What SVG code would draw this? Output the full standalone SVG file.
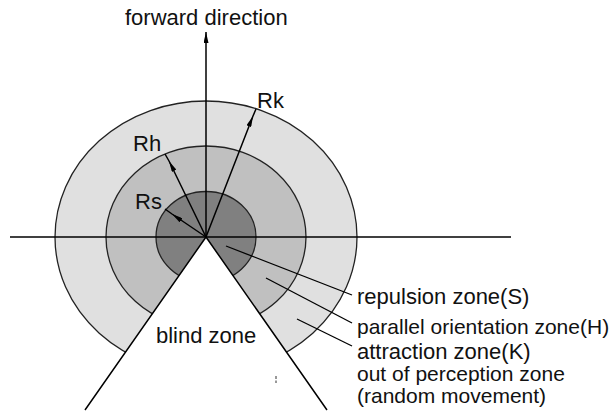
<svg xmlns="http://www.w3.org/2000/svg" width="616" height="415" viewBox="0 0 616 415">
<style>
.zone{stroke:#222;stroke-width:1.3}
.ln{stroke:#000;stroke-width:1.5;fill:none}
.lead{stroke:#000;stroke-width:1.3;fill:none}
text{font-family:"Liberation Sans",Arial,sans-serif;font-size:22px;fill:#111}
.tight{font-size:21px}
</style>
<defs>
<marker id="ah" markerUnits="userSpaceOnUse" markerWidth="11" markerHeight="5" refX="11" refY="2.5" orient="auto">
<path d="M0,0 L11,2.5 L0,5 z" fill="#000"/>
</marker>
</defs>
<rect width="616" height="415" fill="#fff"/>
<g id="zone-K"><ellipse class="zone" cx="206" cy="237" rx="151" ry="136" fill="#e0e0e0"/></g>
<g id="zone-H"><ellipse class="zone" cx="206" cy="237" rx="100" ry="91" fill="#c0c0c0"/></g>
<g id="zone-S"><ellipse class="zone" cx="206" cy="237" rx="50" ry="45.5" fill="#808080"/></g>
<g id="blind-zone"><polygon points="206,237 85,410 327,410" fill="#fff"/></g>
<g id="connectors">
<line class="ln" x1="10" y1="237" x2="511" y2="237"/>
<path class="ln" d="M206,237 L206,32" marker-end="url(#ah)"/>
<path class="ln" d="M206,237 L85,410 M206,237 L327,410"/>
<path class="ln" d="M206,237 L253,116 L256,109" marker-mid="url(#ah)"/>
<path class="ln" d="M206,237 L169,161 L165,154" marker-mid="url(#ah)"/>
<path class="ln" d="M206,237 L172,214 L165,209" marker-mid="url(#ah)"/>
<line class="lead" x1="226" y1="246" x2="352" y2="295"/>
<line class="lead" x1="266" y1="278" x2="352" y2="323"/>
<line class="lead" x1="297" y1="319" x2="352" y2="346"/>
<line x1="276" y1="376" x2="276" y2="383" stroke="#333" stroke-width="1" stroke-dasharray="3,1.5"/>
</g>
<g id="labels">
<text x="125" y="25">forward direction</text>
<text x="257" y="108">Rk</text>
<text x="133" y="151">Rh</text>
<text x="135" y="209">Rs</text>
<text x="156" y="343">blind zone</text>
<text x="357" y="304">repulsion zone(S)</text>
<text x="357" y="334" class="tight">parallel orientation zone(H)</text>
<text x="357" y="359">attraction zone(K)</text>
<text x="357" y="381" class="tight">out of perception zone</text>
<text x="357" y="403" class="tight">(random movement)</text>
</g>
</svg>
